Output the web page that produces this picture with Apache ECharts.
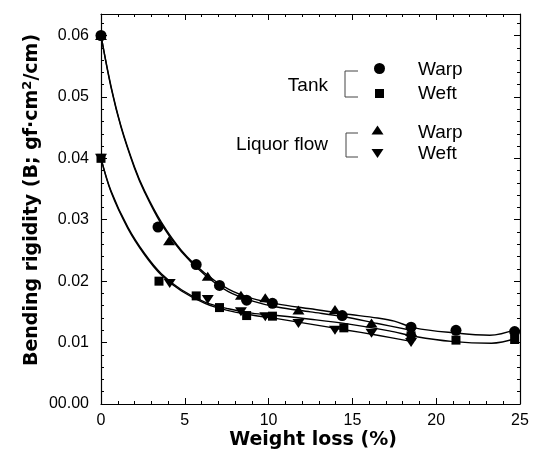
<!DOCTYPE html>
<html><head><meta charset="utf-8">
<script src="https://cdn.jsdelivr.net/npm/echarts@6/dist/echarts.min.js"></script>
<style>html,body{margin:0;padding:0;background:#fff}#c{width:537px;height:462px}</style>
</head><body><div id="c"></div>
<script>
// Measured points (weight loss %, bending rigidity)
const tankWarpX = [0, 3.40, 5.68, 7.07, 8.69, 10.23, 14.39, 18.5, 21.18, 24.68];
const tankWarpY = [0.0600, 0.0288, 0.0227, 0.0193, 0.0169, 0.0164, 0.0144, 0.0125, 0.0120, 0.0118];
const tankWeftX = [0, 3.46, 5.68, 7.07, 8.69, 10.23, 14.49, 18.5, 21.18, 24.68];
const tankWeftY = [0.0400, 0.0200, 0.0176, 0.0157, 0.0144, 0.0143, 0.0124, 0.0111, 0.0104, 0.0105];
const liqWarpX = [0, 4.06, 6.37, 8.35, 9.80, 11.78, 13.96, 16.14, 18.5];
const liqWarpY = [0.0600, 0.0266, 0.0208, 0.0177, 0.0173, 0.0153, 0.0154, 0.0132, 0.0118];
const liqWeftX = [0, 4.10, 6.37, 8.35, 9.80, 11.78, 13.96, 16.14, 18.5];
const liqWeftY = [0.0400, 0.0196, 0.0170, 0.0150, 0.0142, 0.0131, 0.0120, 0.0115, 0.0100];

// Fitted curves
const fitTankWarpX = [0, 0.6, 1.2, 2.0, 2.6, 3.6, 4.8, 6.2, 7.6, 9.0, 10.5, 12.5, 14.5, 16.5, 17.5, 18.7, 21.0, 23.2, 24.8];
const fitTankWarpY = [0.0600, 0.0517, 0.0452, 0.0386, 0.0347, 0.0296, 0.0250, 0.0213, 0.0187, 0.0172, 0.0163, 0.0155, 0.0147, 0.0140, 0.0135, 0.0124, 0.0116, 0.0112, 0.0122];
const fitLiqWarpX = [0, 0.6, 1.2, 2.0, 2.6, 3.6, 4.8, 6.2, 7.6, 9.0, 10.5, 12.5, 14.5, 16.5, 18.5];
const fitLiqWarpY = [0.0600, 0.0515, 0.0450, 0.0384, 0.0345, 0.0293, 0.0248, 0.0210, 0.0183, 0.0168, 0.0158, 0.0150, 0.0142, 0.0131, 0.0120];
const fitTankWeftX = [0, 0.6, 1.6, 2.6, 3.6, 4.8, 6.2, 7.6, 9.0, 10.5, 12.5, 14.8, 17.2, 18.75, 20.9, 23.3, 24.8];
const fitTankWeftY = [0.0400, 0.0347, 0.0288, 0.0245, 0.0212, 0.0186, 0.0166, 0.0155, 0.0148, 0.0144, 0.0138, 0.0130, 0.0119, 0.0110, 0.0102, 0.0099, 0.0107];
const fitLiqWeftX = [0, 0.6, 1.6, 2.6, 3.6, 4.8, 6.2, 7.6, 9.0, 10.5, 12.5, 14.5, 16.5, 18.5];
const fitLiqWeftY = [0.0400, 0.0345, 0.0286, 0.0243, 0.0210, 0.0184, 0.0164, 0.0152, 0.0145, 0.0139, 0.0130, 0.0121, 0.0112, 0.0102];

const xTicks = [0, 5, 10, 15, 20, 25];
const yTickLabels = ['00.00', '0.01', '0.02', '0.03', '0.04', '0.05', '0.06'];

const zip = (xs, ys) => xs.map((x, i) => [x, ys[i]]);
const black = '#000';
const tickFont = 'Liberation Sans, Arial, sans-serif';
const titleFont = 'DejaVu Sans, sans-serif';

function axisBase(showLabel) {
  return {
    axisLine: { show: true, onZero: false, lineStyle: { color: black, width: 1.2 } },
    axisTick: { show: true, inside: true, length: 6, lineStyle: { color: black, width: 1 } },
    minorTick: { show: true, splitNumber: 5, length: 3, lineStyle: { color: black, width: 1 } },
    splitLine: { show: false },
    axisLabel: { show: showLabel }
  };
}

const xBase = { type: 'value', min: 0, max: 25, interval: 5 };
const yBase = { type: 'value', min: 0, max: 0.0635, interval: 0.01 };

function curve(name, xs, ys) {
  return { name, type: 'line', data: zip(xs, ys), smooth: 0.35, showSymbol: false, symbol: 'none',
    lineStyle: { color: black, width: 1.4 }, z: 2, silent: true, animation: false };
}
function pts(name, xs, ys, symbol, size, rot) {
  return { name, type: 'scatter', data: zip(xs, ys), symbol, symbolSize: size, symbolRotate: rot || 0,
    itemStyle: { color: black, opacity: 1 }, z: 3, animation: false };
}

const chart = echarts.init(document.getElementById('c'), null, { renderer: 'canvas' });
chart.setOption({
  animation: false,
  backgroundColor: '#fff',
  grid: { left: 101, right: 17, top: 14, bottom: 58 },
  xAxis: [
    Object.assign({}, xBase, axisBase(true), { position: 'bottom',
      axisLabel: { show: true, color: black, fontSize: 16, fontFamily: tickFont, margin: 9,
        formatter: v => xTicks.includes(v) ? String(v) : '' } }),
    Object.assign({}, xBase, axisBase(false), { position: 'top' })
  ],
  yAxis: [
    Object.assign({}, yBase, axisBase(true), { position: 'left',
      axisLabel: { show: true, color: black, fontSize: 16, fontFamily: tickFont, margin: 12,
        showMaxLabel: false,
        formatter: v => { const k = Math.round(v * 100); return Math.abs(v * 100 - k) < 1e-6 ? (yTickLabels[k] || '') : ''; } } }),
    Object.assign({}, yBase, axisBase(false), { position: 'right' })
  ],
  series: [
    curve('fit tank warp', fitTankWarpX, fitTankWarpY),
    curve('fit liquor warp', fitLiqWarpX, fitLiqWarpY),
    curve('fit tank weft', fitTankWeftX, fitTankWeftY),
    curve('fit liquor weft', fitLiqWeftX, fitLiqWeftY),
    pts('Tank Warp', tankWarpX, tankWarpY, 'circle', 11),
    pts('Tank Weft', tankWeftX, tankWeftY, 'rect', 9),
    pts('Liquor flow Warp', liqWarpX, liqWarpY, 'triangle', [12, 9]),
    pts('Liquor flow Weft', liqWeftX, liqWeftY, 'triangle', [12, 9], 180)
  ],
  graphic: [
    { type: 'text', x: 313, y: 440, style: { text: 'Weight loss (%)', fill: black,
      font: 'bold 19px ' + titleFont, align: 'center', verticalAlign: 'middle' } },
    { type: 'text', x: 32, y: 200, rotation: Math.PI / 2, style: {
      text: '{m|Bending rigidity (B; gf·cm}{s|2}{m|/cm)}', align: 'center', verticalAlign: 'middle',
      rich: { m: { font: 'bold 19px ' + titleFont, fill: black, lineHeight: 22 },
              s: { font: 'bold 13px ' + titleFont, fill: black, verticalAlign: 'top', lineHeight: 22 } } } },
    // key
    { type: 'text', x: 328, y: 86, style: { text: 'Tank', fill: black, font: '19px ' + tickFont, align: 'right', verticalAlign: 'middle' } },
    { type: 'text', x: 328, y: 145, style: { text: 'Liquor flow', fill: black, font: '19px ' + tickFont, align: 'right', verticalAlign: 'middle' } },
    { type: 'polyline', shape: { points: [[358, 71], [345, 71], [345, 97], [358, 97]] }, style: { stroke: '#444', lineWidth: 1, fill: null } },
    { type: 'polyline', shape: { points: [[358, 133], [346, 133], [346, 157], [358, 157]] }, style: { stroke: '#444', lineWidth: 1, fill: null } },
    { type: 'circle', shape: { cx: 379.5, cy: 68.5, r: 5.5 }, style: { fill: black } },
    { type: 'rect', shape: { x: 375, y: 89, width: 9, height: 9 }, style: { fill: black } },
    { type: 'polygon', shape: { points: [[377.5, 125.5], [383.5, 134.5], [371.5, 134.5]] }, style: { fill: black } },
    { type: 'polygon', shape: { points: [[371.5, 149], [383.5, 149], [377.5, 158]] }, style: { fill: black } },
    { type: 'text', x: 418, y: 70, style: { text: 'Warp', fill: black, font: '19px ' + tickFont, align: 'left', verticalAlign: 'middle' } },
    { type: 'text', x: 418, y: 94, style: { text: 'Weft', fill: black, font: '19px ' + tickFont, align: 'left', verticalAlign: 'middle' } },
    { type: 'text', x: 418, y: 133, style: { text: 'Warp', fill: black, font: '19px ' + tickFont, align: 'left', verticalAlign: 'middle' } },
    { type: 'text', x: 418, y: 154, style: { text: 'Weft', fill: black, font: '19px ' + tickFont, align: 'left', verticalAlign: 'middle' } }
  ]
});
</script>
</body></html>
